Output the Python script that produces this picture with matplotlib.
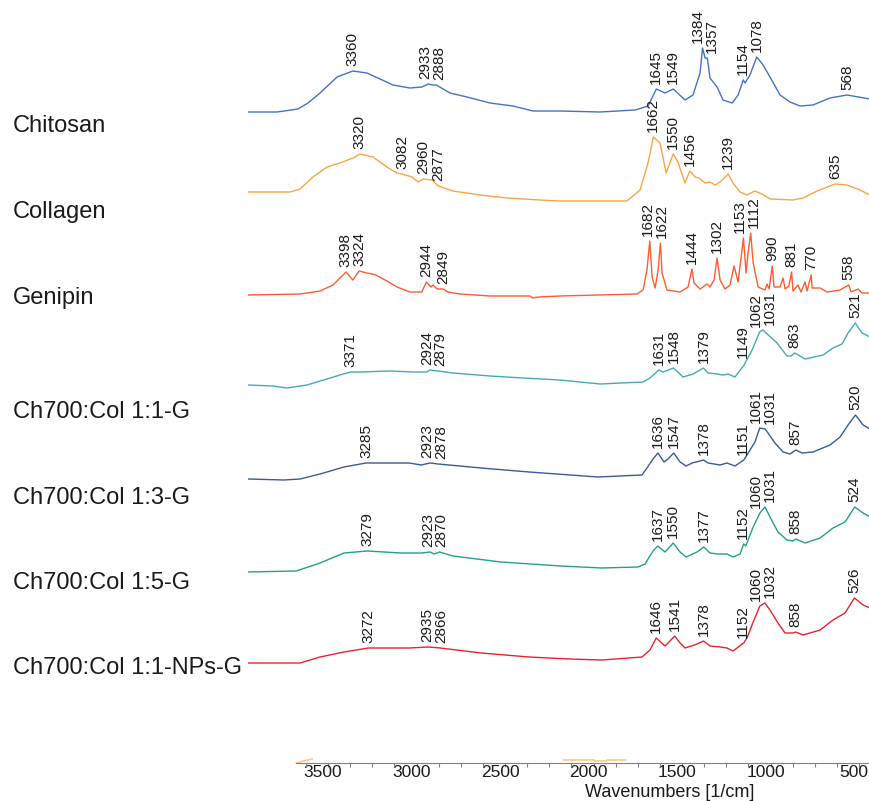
import numpy as np
import matplotlib
matplotlib.use("Agg")
import matplotlib.pyplot as plt
from matplotlib.transforms import ScaledTranslation

plt.rcParams["font.family"] = ["Liberation Sans", "DejaVu Sans"]

# FTIR spectra: wavenumber (1/cm) and absorbance above each trace's own baseline (a.u.)
chitosan_wn = [3952, 3788, 3670, 3613, 3545, 3449, 3360, 3280, 3206, 3133, 3037, 2970, 2933, 2910,
               2888, 2811, 2715, 2585, 2455, 2342, 2190, 1963, 1765, 1692, 1645, 1596, 1549, 1483,
               1438, 1398, 1384, 1370, 1357, 1342, 1302, 1268, 1217, 1183, 1154, 1144, 1116, 1078,
               1042, 1003, 946, 890, 833, 760, 664, 568, 438]
chitosan_ab = [0, 0, 3, 9, 19, 35, 41, 39, 33, 27, 24, 25, 28, 27,
               27, 19, 15, 9, 6, 1, 1, 0, 2, 6, 23, 19, 23, 12,
               17, 39, 64, 54, 54, 34, 25, 12, 9, 17, 32, 29, 37, 55,
               47, 35, 17, 10, 6, 7, 14, 17, 13]

collagen_wn = [3952, 3715, 3658, 3585, 3506, 3432, 3359, 3320, 3246, 3167, 3110, 3082, 3025, 2991,
               2960, 2912, 2877, 2794, 2641, 2489, 2302, 2190, 1811, 1737, 1692, 1662, 1624, 1590,
               1550, 1523, 1483, 1456, 1426, 1404, 1370, 1342, 1313, 1285, 1239, 1212, 1172, 1133,
               1088, 1048, 1003, 873, 817, 737, 635, 568, 494, 438]
collagen_ab = [0, 0, 3, 15, 25, 29, 34, 38, 35, 25, 19, 18, 15, 10,
               13, 12, 6, 1, -3, -6, -8, -9, -9, 2, 29, 55, 49, 19,
               38, 30, 9, 21, 15, 14, 9, 10, 7, 10, 18, 9, 0, -3,
               1, -2, -7, -8, -6, 1, 8, 7, 2, -3]

genipin_wn = [3952, 3658, 3545, 3472, 3432, 3398, 3360, 3324, 3280, 3229, 3167, 3110, 3037, 2970,
              2944, 2918, 2907, 2884, 2849, 2822, 2754, 2585, 2359, 2342, 2313, 2190, 1754, 1720,
              1698, 1682, 1669, 1652, 1635, 1622, 1613, 1585, 1511, 1466, 1444, 1432, 1398, 1359,
              1342, 1319, 1302, 1285, 1257, 1229, 1206, 1183, 1153, 1138, 1127, 1112, 1098, 1070,
              1031, 1020, 1008, 990, 980, 946, 929, 918, 896, 881, 873, 845, 828, 805, 794, 770,
              765, 720, 681, 607, 558, 545, 505, 483, 438]
genipin_ab = [0, 1, 4, 10, 17, 23, 15, 24, 22, 20, 14, 8, 3, 3,
              13, 8, 10, 6, 6, 3, 1, -1, -1, -3, -2, -1, 1, 5,
              25, 54, 18, 7, 25, 52, 22, 5, 3, 8, 26, 12, 6, 11,
              8, 15, 37, 15, 6, 10, 29, 13, 57, 22, 42, 62, 32, 8,
              5, 11, 6, 29, 8, 8, 17, 6, 9, 23, 4, 10, 3, 13, 4, 20,
              7, 7, 3, 5, 10, 3, 6, 2, 2]

g11_wn = [3952, 3811, 3732, 3619, 3506, 3415, 3371, 3319, 3150, 3020, 2941, 2924, 2879, 2794,
          2585, 2398, 2190, 1963, 1720, 1681, 1631, 1607, 1548, 1494, 1438, 1379, 1353, 1302,
          1268, 1240, 1201, 1149, 1144, 1104, 1062, 1042, 1031, 963, 907, 884, 863, 805, 703,
          647, 596, 562, 521, 483, 438]
g11_ab = [0, -1, -3, 0, 6, 11, 13, 13, 14, 13, 13, 15, 14, 12,
          9, 7, 5, 1, 3, 7, 15, 13, 17, 8, 11, 17, 12, 11,
          10, 11, 8, 20, 22, 35, 53, 55, 53, 42, 29, 29, 32, 26, 30,
          37, 41, 52, 62, 52, 48]

g13_wn = [3952, 3749, 3658, 3545, 3410, 3285, 3042, 2974, 2923, 2878, 2635, 2364, 1975, 1726,
          1698, 1664, 1636, 1602, 1579, 1547, 1511, 1477, 1443, 1378, 1353, 1285, 1246, 1201,
          1151, 1133, 1088, 1061, 1031, 1014, 975, 929, 890, 857, 822, 760, 664, 607, 562, 520,
          477, 438]
g13_ab = [0, -1, 0, 5, 12, 16, 16, 14, 16, 15, 11, 7, 2, 4,
          11, 20, 26, 17, 20, 26, 17, 13, 16, 19, 16, 14, 16, 13,
          19, 24, 37, 51, 50, 46, 36, 27, 25, 29, 26, 27, 34, 42, 54, 64,
          54, 50]

g15_wn = [3952, 3680, 3545, 3410, 3279, 3088, 2974, 2923, 2900, 2870, 2794, 2523, 2184, 1952,
          1748, 1709, 1664, 1637, 1596, 1550, 1511, 1477, 1415, 1377, 1342, 1297, 1246, 1212,
          1172, 1152, 1140, 1098, 1060, 1031, 1003, 958, 907, 873, 858, 805, 720, 647, 579, 524,
          477, 438]
g15_ab = [0, 1, 9, 19, 21, 19, 19, 20, 18, 20, 16, 10, 6, 4,
          5, 8, 21, 26, 20, 29, 20, 15, 20, 25, 19, 18, 18, 15,
          18, 28, 26, 45, 59, 65, 55, 40, 32, 31, 33, 29, 34, 44, 50, 65,
          59, 55]

nps_wn = [3952, 3658, 3545, 3410, 3272, 3042, 2935, 2866, 2635, 2364, 2138, 1952, 1726, 1681,
          1646, 1596, 1541, 1511, 1483, 1430, 1378, 1342, 1285, 1246, 1212, 1152, 1133, 1098,
          1060, 1032, 1003, 958, 918, 873, 858, 816, 720, 647, 579, 526, 477, 438]
nps_ab = [0, 0, 6, 11, 15, 15, 16, 15, 10, 6, 4, 3, 6, 13,
          25, 17, 27, 20, 15, 18, 22, 17, 16, 15, 12, 20, 25, 41,
          57, 60, 53, 40, 30, 30, 31, 28, 33, 43, 50, 65, 58, 55]

# labelled band positions (1/cm) for each trace
chitosan_peaks = [3360, 2933, 2888, 1645, 1549, 1384, 1357, 1154, 1078, 568]
collagen_peaks = [3320, 3082, 2960, 2877, 1662, 1550, 1456, 1239, 635]
genipin_peaks = [3398, 3324, 2944, 2849, 1682, 1622, 1444, 1302, 1153, 1112, 990, 881, 770, 558]
g11_peaks = [3371, 2924, 2879, 1631, 1548, 1379, 1149, 1062, 1031, 863, 521]
g13_peaks = [3285, 2923, 2878, 1636, 1547, 1378, 1151, 1061, 1031, 857, 520]
g15_peaks = [3279, 2923, 2870, 1637, 1550, 1377, 1152, 1060, 1031, 858, 524]
nps_peaks = [3272, 2935, 2866, 1646, 1541, 1378, 1152, 1060, 1032, 858, 526]

names = ["Chitosan", "Collagen", "Genipin", "Ch700:Col 1:1-G", "Ch700:Col 1:3-G",
         "Ch700:Col 1:5-G", "Ch700:Col 1:1-NPs-G"]

# stray collagen fragments lying on the axis
stray1_wn = [3680, 3640, 3590]
stray1_ab = [0, 2, 4]
stray2_wn = [2170, 2000, 1990, 1960, 1930, 1920, 1820]
stray2_ab = [3, 3, 2, 2, 2, 3, 3]

spectra = [
    (chitosan_wn, chitosan_ab, chitosan_peaks),
    (collagen_wn, collagen_ab, collagen_peaks),
    (genipin_wn, genipin_ab, genipin_peaks),
    (g11_wn, g11_ab, g11_peaks),
    (g13_wn, g13_ab, g13_peaks),
    (g15_wn, g15_ab, g15_peaks),
    (nps_wn, nps_ab, nps_peaks),
]
colors = ["#4472C4", "#F9A445", "#FF5B2E", "#45A8B8", "#3B5A96", "#22A08A", "#E8232B"]
offsets = [651, 571, 468, 378, 284, 191, 100]          # baseline height above the axis
name_baseline_px = [132, 218, 304, 418, 504, 589, 674]  # from top of figure

W, H = 870, 801
AX_L, AX_B = 248, 763
XMAX, XMIN = 3952, 438
PX_PER_WN = (W - AX_L) / (XMAX - XMIN)


def spread(vals, sep):
    # push crowded peak labels apart so neighbours don't overlap
    p = np.array(vals, float)
    order = np.argsort(-p)
    q = p[order]
    for _ in range(100):
        moved = False
        for i in range(len(q) - 1):
            gap = q[i] - q[i + 1]
            if gap < sep - 1e-6:
                d = (sep - gap) / 2
                q[i] += d
                q[i + 1] -= d
                moved = True
        if not moved:
            break
    out = np.empty_like(q)
    out[order] = q
    return out


fig = plt.figure(figsize=(W / 100, H / 100), dpi=100)
ax = fig.add_axes([AX_L / W, (H - AX_B) / H, (W - AX_L) / W, AX_B / H])
ax.set_xlim(XMAX, XMIN)
ax.set_ylim(0, AX_B)
ax.patch.set_alpha(0)

for (wn, ab, peaks), c, off in zip(spectra, colors, offsets):
    wn = np.asarray(wn, float)
    ab = np.asarray(ab, float)
    ax.plot(wn, ab + off, color=c, lw=1.0, solid_joinstyle="round")
    lx = spread(peaks, 13.5 / PX_PER_WN)
    for pk, x in zip(peaks, lx):
        near = ab[np.abs(wn - pk) <= 12]
        top = off + near.max() + 5
        ax.text(x, top, str(pk), rotation=90, ha="center", va="bottom",
                fontsize=11, color="#1a1a1a", clip_on=False)

for wn, ab in ((stray1_wn, stray1_ab), (stray2_wn, stray2_ab)):
    ax.plot(wn, ab, color="#F9C98C", lw=1.2)

for name, yb in zip(names, name_baseline_px):
    fig.text(13 / W, 1 - yb / H, name, fontsize=17, color="#1a1a1a",
             ha="left", va="baseline")

for s in ("left", "right", "top"):
    ax.spines[s].set_visible(False)
ax.spines["bottom"].set_bounds(3680, XMIN)
ax.spines["bottom"].set_color("#808080")
ax.set_yticks([])
ax.set_xticks(np.arange(3500, 499, -500))
ax.set_xticks(np.arange(3625, 440, -125), minor=True)
ax.tick_params(axis="x", which="both", direction="out", length=3, width=0.8,
               color="#808080", labelsize=12.5, labelcolor="#1a1a1a", pad=-1.5)
shift = ScaledTranslation(-5 / 100, 0, fig.dpi_scale_trans)
for lab in ax.get_xticklabels():
    lab.set_transform(lab.get_transform() + shift)
fig.text(670 / W, 1 - 797 / H, "Wavenumbers [1/cm]", fontsize=13, color="#1a1a1a",
         ha="center", va="baseline")

fig.savefig("out.png", dpi=100)
